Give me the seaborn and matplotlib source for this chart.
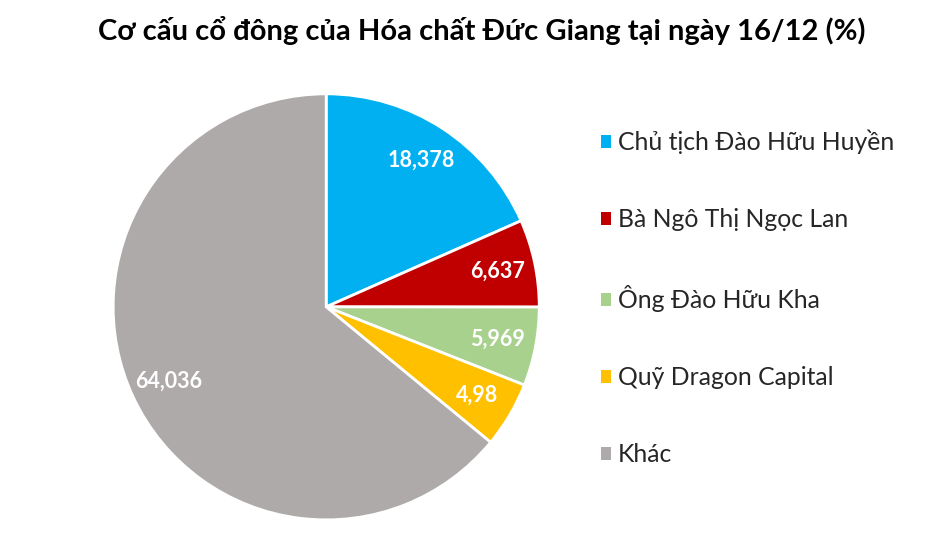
import matplotlib.pyplot as plt
import seaborn as sns
from matplotlib.patches import Patch
import numpy as np

# Dữ liệu cơ cấu cổ đông (%)
labels = ["Chủ tịch Đào Hữu Huyền", "Bà Ngô Thị Ngọc Lan", "Ông Đào Hữu Kha",
          "Quỹ Dragon Capital", "Khác"]
values = [18.378, 6.637, 5.969, 4.98, 64.036]
value_text = ["18,378", "6,637", "5,969", "4,98", "64,036"]
colors = ["#00B0F0", "#C00000", "#A9D18E", "#FFC000", "#AEAAAA"]

sns.set_theme(style="white")
plt.rcParams['font.family'] = ['Lato', 'DejaVu Sans']

fig = plt.figure(figsize=(9.51, 5.36), dpi=100)
ax = fig.add_axes([0.119, 0.030, 0.448, 0.795])

wedges, _ = ax.pie(values, colors=colors, startangle=90, counterclock=False,
                   wedgeprops=dict(edgecolor="white", linewidth=2))
ax.set_xlim(-1.0, 1.0)
ax.set_ylim(-1.0, 1.0)
ax.set_aspect("equal")

# Nhãn giá trị bên trong lát
for w, txt in zip(wedges, value_text):
    ang = np.deg2rad((w.theta1 + w.theta2) / 2)
    r = 0.82
    ax.text(r * np.cos(ang), r * np.sin(ang), txt, ha="center", va="center",
            color="white", fontsize=15.5, fontweight="bold")

fig.suptitle("Cơ cấu cổ đông của Hóa chất Đức Giang tại ngày 16/12 (%)",
             x=0.507, y=0.97, fontsize=21, fontweight="bold", color="black")

handles = [Patch(facecolor=c, edgecolor="none") for c in colors]
fig.legend(handles, labels, loc="center left", bbox_to_anchor=(0.632, 0.444),
           frameon=False, fontsize=17.8, labelspacing=2.18, handlelength=0.42,
           handleheight=0.42, handletextpad=0.25, borderpad=0, borderaxespad=0)

fig.savefig("out.png", dpi=100, facecolor="white")
